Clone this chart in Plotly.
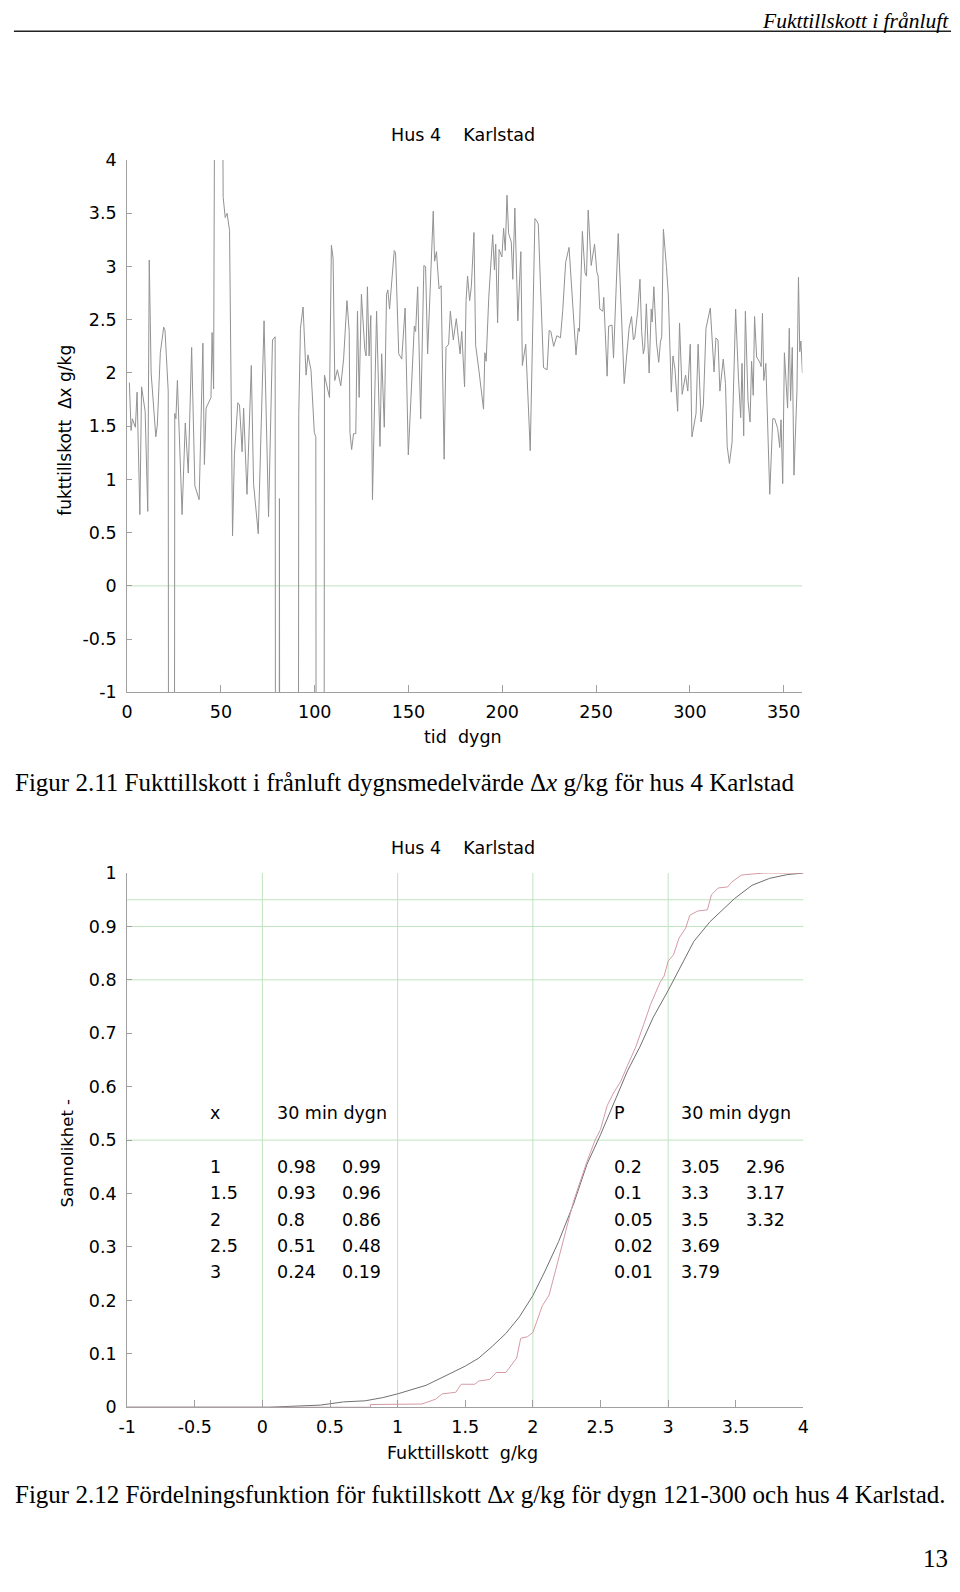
import plotly.graph_objects as go

# ---------------- data: top chart (daily mean moisture supply) ----------------
days = [1.2, 2.1, 2.8, 4.4, 5.3, 6.8, 7.7, 9.6, 11.0, 11.8, 12.8, 15.3, 16.1, 17.7, 19.5, 20.2, 21.9,
        22.9, 24.4, 25.4, 26.0, 26.8, 29.3, 31.0, 32.6, 34.4, 36.1, 38.4, 40.4, 41.2, 42.1, 44.7, 45.3,
        46.1, 47.0, 48.5, 50.2, 51.2, 52.3, 53.3, 54.6, 56.2, 57.2, 59.0, 59.9, 61.3, 62.1, 63.9, 66.2,
        67.4, 69.9, 73.0, 75.4, 77.5, 78.9, 79.9, 80.3, 81.2, 82.2, 90.5, 91.5,
        92.4, 93.8, 95.4, 96.4, 98.0, 99.8, 100.6, 101.6, 104.2, 105.2, 107.9, 108.9, 109.8, 110.7,
        112.1, 113.9, 115.4, 117.2, 118.4, 118.8, 119.7, 120.7, 121.9, 122.8, 123.7, 124.9, 126.7,
        127.4, 128.1, 129.0, 129.9, 130.8, 133.0, 134.8, 135.7, 137.1, 138.3, 139.0, 139.9, 142.4,
        143.1, 144.8, 146.4, 148.2, 149.9, 153.1, 153.8, 154.9, 156.5, 158.2, 159.1, 160.2, 163.2,
        163.9, 164.9, 166.3, 167.4, 169.0, 170.0, 171.4, 172.3, 173.9,
        175.5, 177.5, 178.4, 179.9, 180.7, 181.5, 182.6, 183.5, 184.9, 185.8, 187.5, 190.0, 190.7,
        191.4, 192.8, 194.9, 195.8, 196.5, 197.5, 198.3, 199.8, 200.7, 201.6, 202.5, 203.4, 204.8,
        205.6, 206.7, 208.3, 209.9, 210.7, 212.5, 214.9, 217.4, 218.3, 219.2, 220.4, 222.0, 223.9,
        225.0, 225.9, 227.4, 229.1, 231.0, 232.2, 233.8, 235.6, 237.5, 239.3, 240.5, 241.1, 242.7,
        244.1, 244.9, 245.8, 247.4, 249.2, 250.4, 251.1, 252.0, 252.7, 253.6, 254.1, 255.9, 256.7,
        258.5, 259.3, 261.8,
        265.0, 266.4, 267.6, 268.9, 269.9, 270.6, 272.2, 273.4, 274.3, 275.2, 275.9, 276.8, 278.3,
        279.4, 279.9, 280.8, 282.2, 283.4, 284.3, 285.0, 285.9, 287.5, 288.5, 290.1, 291.0, 292.1,
        293.5, 294.5, 295.9, 297.7, 298.9, 300.2, 301.1, 303.3, 304.4, 306.0, 307.2, 308.6, 309.7,
        310.9, 312.9, 313.9, 315.0, 316.0, 317.8, 319.0, 319.9, 321.1, 322.5, 324.4, 325.9, 327.1,
        327.8, 328.7, 329.6, 331.0, 332.1, 332.9, 333.8, 334.5, 335.6, 337.3, 338.0, 338.7, 339.4,
        340.5, 342.6, 344.2, 345.2, 346.8, 347.9, 348.6, 349.5, 350.4, 352.1, 353.0, 353.7, 354.6,
        355.5, 357.1, 357.9, 358.6, 359.2, 360.0]
dx_values = [1.91, 1.46, 1.57, 1.49, 1.82, 0.67, 1.87, 1.64, 0.70, 3.06, 2.00, 1.40, 1.51, 2.19, 2.43, 2.40, 1.83,
             -20, -20, 1.62, 1.57, 1.93, 0.67, 1.53, 1.06, 2.24, 0.94, 0.81, 2.28, 1.14, 1.67, 1.77, 2.38,
             1.85, 6.5, 6.0, 7.0, 3.65, 3.46, 3.50, 3.34, 0.47, 1.23, 1.72, 1.70, 1.26, 1.67, 0.86, 2.07,
             0.96, 0.49, 2.49, 0.65, 2.31, 2.34, -20, -20, 0.82, -20, -20, 1.61,
             2.42, 2.62, 1.98, 2.17, 2.03, 1.44, 1.40, -20, -20, 1.98, 1.77, 3.20, 3.08, 1.93,
             2.03, 1.88, 2.13, 2.68, 2.39, 1.44, 1.28, 1.43, 1.43, 2.58, 1.77, 2.74, 2.22,
             2.16, 2.81, 2.16, 2.54, 0.81, 2.58, 1.31, 2.18, 1.49, 2.74, 2.78, 2.60, 3.15,
             3.13, 2.18, 2.13, 2.61, 1.23, 2.44, 2.39, 2.81, 1.57, 3.01, 3.00, 2.18, 3.52,
             3.05, 3.14, 2.79, 2.82, 1.19, 2.24, 2.27, 2.58, 2.31,
             2.51, 2.18, 2.39, 1.87, 2.68, 2.91, 2.68, 2.81, 3.32, 2.26, 2.03, 1.66, 2.19,
             2.11, 2.71, 3.30, 2.97, 3.21, 2.47, 3.16, 3.09, 3.36, 3.15, 3.67, 3.31, 3.23,
             2.88, 3.55, 2.49, 3.14, 2.07, 2.27, 1.27, 3.45, 3.43, 3.40, 2.81, 2.05, 2.03,
             2.40, 2.39, 2.25, 2.35, 2.33, 2.58, 3.04, 3.18, 2.61, 2.17, 2.42, 2.39, 3.33,
             2.94, 2.91, 3.53, 3.01, 3.21, 2.95, 2.91, 2.60, 2.59, 2.58, 2.71, 1.97, 2.44,
             2.45, 2.14, 3.31,
             1.90, 2.22, 2.42, 2.53, 2.31, 2.33, 2.58, 2.88, 2.39, 2.18, 2.24, 2.65, 2.00,
             2.60, 2.48, 2.81, 2.29, 2.10, 2.29, 2.34, 3.35, 3.00, 2.74, 1.82, 2.16, 2.03,
             1.64, 2.47, 1.80, 1.98, 1.83, 2.27, 1.40, 1.62, 2.27, 1.54, 1.70, 2.42, 2.51,
             2.61, 2.01, 2.33, 2.31, 1.83, 2.13, 1.90, 1.31, 1.15, 1.35, 2.60, 1.96, 1.58,
             2.09, 1.41, 2.58, 1.74, 1.54, 2.11, 1.79, 2.53, 2.15, 2.10, 2.06, 2.56, 1.93,
             2.09, 0.86, 1.57, 1.57, 1.48, 1.30, 1.56, 0.96, 2.19, 1.67, 2.42, 1.74, 2.24,
             1.04, 1.83, 2.90, 2.20, 2.30, 2.00]

top_xticks = [0, 50, 100, 150, 200, 250, 300, 350]
top_yticks = [4, 3.5, 3, 2.5, 2, 1.5, 1, 0.5, 0, -0.5, -1]
top_ytick_text = ["4", "3.5", "3", "2.5", "2", "1.5", "1", "0.5", "0", "-0.5", "-1"]
top_grid_y = [0]

# ---------------- data: bottom chart (distribution functions) ----------------
cdf30_x = [-1, 0.05, 0.43, 0.5, 0.6, 0.76, 0.89, 1.0, 1.21, 1.38, 1.5, 1.6, 1.7, 1.8, 1.9, 2.0, 2.09,
           2.19, 2.3, 2.4, 2.5, 2.6, 2.7, 2.79, 2.89, 3.0, 3.1, 3.19, 3.31, 3.39, 3.49, 3.62, 3.75, 3.88, 4.0]
cdf30_p = [0, 0, 0.004, 0.006, 0.01, 0.012, 0.018, 0.025, 0.041, 0.062, 0.077, 0.092, 0.114, 0.138, 0.169,
           0.209, 0.255, 0.31, 0.38, 0.455, 0.51, 0.57, 0.63, 0.674, 0.73, 0.78, 0.829, 0.872, 0.909, 0.928,
           0.952, 0.977, 0.99, 0.997, 1.0]

cdfday_x = [-1, 0.8, 0.8, 1.18, 1.28, 1.33, 1.43, 1.47, 1.57, 1.6, 1.68, 1.73, 1.8, 1.85, 1.88, 1.91, 1.96,
            2.0, 2.03, 2.07, 2.12, 2.16, 2.2, 2.25, 2.3, 2.4, 2.46, 2.5, 2.55, 2.6, 2.65, 2.7, 2.76, 2.82,
            2.87, 2.94, 2.97, 3.0, 3.04, 3.08, 3.13, 3.16, 3.19, 3.22, 3.29, 3.32, 3.37, 3.44, 3.47, 3.54,
            3.57, 3.68, 3.71, 4.0]
cdfday_p = [0, 0, 0.005, 0.006, 0.015, 0.025, 0.028, 0.043, 0.043, 0.049, 0.052, 0.065, 0.065, 0.083, 0.092,
            0.129, 0.132, 0.14, 0.16, 0.19, 0.21, 0.25, 0.29, 0.34, 0.385, 0.46, 0.50, 0.52, 0.565, 0.59,
            0.61, 0.64, 0.674, 0.717, 0.754, 0.795, 0.807, 0.835, 0.847, 0.878, 0.897, 0.921, 0.925, 0.929,
            0.931, 0.959, 0.972, 0.974, 0.983, 0.996, 0.997, 0.999, 1.0, 1.0]

bot_xticks = [-1, -0.5, 0, 0.5, 1, 1.5, 2, 2.5, 3, 3.5, 4]
bot_xtick_text = ["-1", "-0.5", "0", "0.5", "1", "1.5", "2", "2.5", "3", "3.5", "4"]
bot_yticks = [0, 0.1, 0.2, 0.3, 0.4, 0.5, 0.6, 0.7, 0.8, 0.9, 1]
bot_ytick_text = ["0", "0.1", "0.2", "0.3", "0.4", "0.5", "0.6", "0.7", "0.8", "0.9", "1"]
bot_grid_x = [0, 1, 2, 3]
bot_grid_y = [0.5, 0.8, 0.9, 0.95]

# table inside the bottom chart
tab_x = ["1", "1.5", "2", "2.5", "3"]
tab_x_30min = ["0.98", "0.93", "0.8", "0.51", "0.24"]
tab_x_dygn = ["0.99", "0.96", "0.86", "0.48", "0.19"]
tab_p = ["0.2", "0.1", "0.05", "0.02", "0.01"]
tab_p_30min = ["3.05", "3.3", "3.5", "3.69", "3.79"]
tab_p_dygn = ["2.96", "3.17", "3.32", "", ""]

# ---------------- layout helpers ----------------
W, H = 960, 1592
SANS = "DejaVu Sans"
SERIF = "Liberation Serif"
FS = 17.5
NB = "\u00a0"


def px(x):
    return x / W


def py(y):
    return 1 - y / H


AX_COL = "#a0a0a0"
GRID_COL = "#bfe3bf"

fig = go.Figure()

fig.add_trace(go.Scatter(x=days, y=dx_values, mode="lines",
                         line=dict(color="#929292", width=1), xaxis="x", yaxis="y",
                         hoverinfo="skip"))
fig.add_trace(go.Scatter(x=cdf30_x, y=cdf30_p, mode="lines",
                         line=dict(color="#707070", width=1), xaxis="x2", yaxis="y2",
                         hoverinfo="skip"))
fig.add_trace(go.Scatter(x=cdfday_x, y=cdfday_p, mode="lines",
                         line=dict(color="#d69aa5", width=1), xaxis="x2", yaxis="y2",
                         hoverinfo="skip"))

shapes = []
for gy in top_grid_y:
    shapes.append(dict(type="line", xref="x", yref="y", x0=top_xticks[0], x1=360, y0=gy, y1=gy,
                       line=dict(color=GRID_COL, width=1), layer="below"))
for gx in bot_grid_x:
    shapes.append(dict(type="line", xref="x2", yref="y2", x0=gx, x1=gx, y0=0, y1=1,
                       line=dict(color=GRID_COL, width=1), layer="below"))
for gy in bot_grid_y:
    shapes.append(dict(type="line", xref="x2", yref="y2", x0=-1, x1=4, y0=gy, y1=gy,
                       line=dict(color=GRID_COL, width=1), layer="below"))
# page header rule
shapes.append(dict(type="line", xref="paper", yref="paper", x0=px(5), x1=px(957), y0=py(21.5), y1=py(21.5),
                   line=dict(color="#222222", width=1.5)))

ann = []


def txt(s, x, y, xa="left", size=FS, family=SANS, angle=0, ya="middle"):
    ann.append(dict(text=s, x=px(x), y=py(y), xref="paper", yref="paper", xanchor=xa, yanchor=ya,
                    showarrow=False, textangle=angle, font=dict(family=family, size=size, color="black")))


txt("<i>Fukttillskott i frånluft</i>", 957, 11, xa="right", size=21.5, family=SERIF)
txt("Hus 4" + NB * 4 + "Karlstad", 461, 127, xa="center")
txt("fukttillskott" + NB * 2 + "Δx g/kg", 57, 426, xa="center", angle=-90, size=17)
txt("tid" + NB * 2 + "dygn", 461, 736, xa="center")
txt("Figur 2.11 Fukttillskott i frånluft dygnsmedelvärde Δ<i>x</i> g/kg för hus 4 Karlstad",
    4, 782, size=25, family=SERIF)
txt("Hus 4" + NB * 4 + "Karlstad", 461, 849, xa="center")
txt("Sannolikhet" + NB + "-", 59, 1158, xa="center", angle=-90, size=16.5)
txt("Fukttillskott" + NB * 2 + "g/kg", 461, 1461, xa="center")
txt("Figur 2.12 Fördelningsfunktion för fuktillskott Δ<i>x</i> g/kg för dygn 121-300 och hus 4 Karlstad.",
    4, 1503, size=25, family=SERIF)
txt("13", 956, 1568, xa="right", size=25, family=SERIF)

# table
head_y = 1117
row_y = [1171.5, 1198.5, 1225, 1252, 1278]
txt("x", 202, head_y)
txt("30 min dygn", 270, head_y)
txt("P", 613, head_y)
txt("30 min dygn", 681, head_y)
for i, ry in enumerate(row_y):
    txt(tab_x[i], 202, ry)
    txt(tab_x_30min[i], 270, ry)
    txt(tab_x_dygn[i], 336, ry)
    txt(tab_p[i], 613, ry)
    txt(tab_p_30min[i], 681, ry)
    if tab_p_dygn[i]:
        txt(tab_p_dygn[i], 747, ry)

axis_common = dict(showline=True, linecolor=AX_COL, linewidth=1, ticks="inside", tickcolor=AX_COL,
                   showgrid=False, zeroline=False, mirror=False, fixedrange=True,
                   tickfont=dict(family=SANS, size=FS, color="black"))

fig.update_layout(
    width=W, height=H, margin=dict(l=0, r=0, t=0, b=0),
    paper_bgcolor="white", plot_bgcolor="white", showlegend=False,
    xaxis=dict(domain=[px(120), px(806)], range=[0, 360], anchor="y", tickmode="array",
               tickvals=top_xticks, ticklen=7, ticklabelstandoff=4, **axis_common),
    yaxis=dict(domain=[py(691), py(152)], range=[-1, 4], anchor="x", tickmode="array",
               tickvals=top_yticks, ticktext=top_ytick_text, ticklen=5, ticklabelstandoff=6,
               **axis_common),
    xaxis2=dict(domain=[px(120), px(807)], range=[-1, 4], anchor="y2", tickmode="array",
                tickvals=bot_xticks, ticktext=bot_xtick_text, ticklen=7, ticklabelstandoff=4,
                **axis_common),
    yaxis2=dict(domain=[py(1415), py(874)], range=[0, 1], anchor="x2", tickmode="array",
                tickvals=bot_yticks, ticktext=bot_ytick_text, ticklen=5, ticklabelstandoff=6,
                **axis_common),
    shapes=shapes, annotations=ann,
)

fig.write_html("out.html", config={"displayModeBar": False, "staticPlot": True},
               post_script="document.body.style.margin='0';document.body.style.padding='0';"
                           "document.documentElement.style.overflow='hidden';")
